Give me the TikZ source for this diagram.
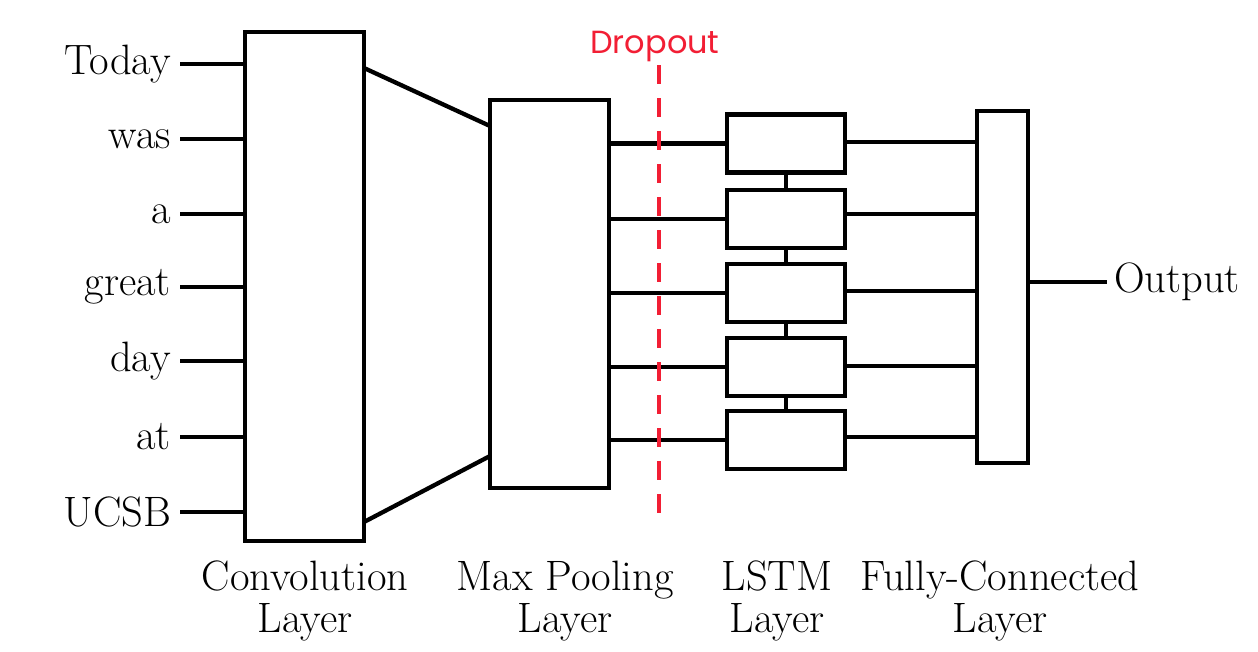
\documentclass[tikz,border=0pt]{standalone}
\usepackage{fontspec}
\newfontfamily\dropfont{Poppins}
\definecolor{dropred}{RGB}{242,30,52}
\begin{document}
\begin{tikzpicture}[x=1pt,y=-1pt,
  box/.style={draw, line width=4.3pt, fill=white, inner sep=0pt, outer sep=0pt},
  word/.style={font=\fontsize{42.5}{46}\selectfont, anchor=east, inner xsep=9pt, inner ysep=0pt, outer sep=0pt},
  caption/.style={font=\fontsize{42.5}{41.5}\selectfont, align=center, anchor=north, inner sep=0pt},
  conn/.style={draw, line width=4.3pt},
  dropline/.style={draw=dropred, line width=4pt, dash pattern=on 19pt off 14pt}]

\useasboundingbox[fill=white] (0,0) rectangle (1258,651);

% boxes
\node[box, minimum width=119pt, minimum height=509pt] (conv) at (304.5,286.5) {};
\node[box, minimum width=119pt, minimum height=388pt] (pool) at (549.5,294) {};
\node[box, minimum width=118pt, minimum height=58pt] (l1) at (786,143.5) {};
\node[box, minimum width=118pt, minimum height=58pt] (l2) at (786,219) {};
\node[box, minimum width=118pt, minimum height=58pt] (l3) at (786,293) {};
\node[box, minimum width=118pt, minimum height=58pt] (l4) at (786,367) {};
\node[box, minimum width=118pt, minimum height=58pt] (l5) at (786,440) {};
\node[box, minimum width=51pt, minimum height=352pt] (fc) at (1002.5,287) {};

% input words
\node[word] (w1) at (180,64) {Today};
\node[word] (w2) at (180,139) {was};
\node[word] (w3) at (180,214) {a};
\node[word] (w4) at (180,287) {great};
\node[word] (w5) at (180,361) {day};
\node[word] (w6) at (180,437) {at};
\node[word] (w7) at (180,512) {UCSB};
\foreach \w in {w1,w2,w3,w4,w5,w6,w7}
  \draw[conn] (\w.east) -- (\w.east -| conv.west);

% conv -> pool
\draw[conn] (conv.east |- 0,68) -- (pool.west |- 0,126);
\draw[conn] (conv.east |- 0,522) -- (pool.west |- 0,456);

% pool -> lstm
\foreach \l in {l1,l2,l3,l4,l5}
  \draw[conn] (pool.east |- \l.west) -- (\l.west);

% lstm chain
\draw[conn] (l1.south) -- (l2.north);
\draw[conn] (l2.south) -- (l3.north);
\draw[conn] (l3.south) -- (l4.north);
\draw[conn] (l4.south) -- (l5.north);

% lstm -> fc
\draw[conn] (l1.east |- 0,142) -- (fc.west |- 0,142);
\draw[conn] (l2.east |- 0,214) -- (fc.west |- 0,214);
\draw[conn] (l3.east |- 0,291) -- (fc.west |- 0,291);
\draw[conn] (l4.east |- 0,366) -- (fc.west |- 0,366);
\draw[conn] (l5.east |- 0,437) -- (fc.west |- 0,437);

% output
\node[word, anchor=west, inner xsep=7pt] (out) at (1107,282) {Output};
\draw[conn] (fc.east |- out.west) -- (out.west);

% captions
\node[caption] (capconv) at (305,561) {Convolution\\Layer};
\node[caption] (cappool) at (565,561) {Max Pooling\\Layer};
\node[caption] (caplstm) at (777,561) {LSTM\\Layer};
\node[caption] (capfc) at (1000,561) {Fully-Connected\\Layer};

% dropout
\node[font=\dropfont\fontsize{32}{36}\selectfont, text=dropred, anchor=base, inner sep=0pt] (droplabel) at (655,53) {Dropout};
\coordinate (dtop) at (659,65);
\coordinate (dbot) at (659,518);
\draw[dropline] (dtop) -- (dbot);
\end{tikzpicture}
\end{document}
